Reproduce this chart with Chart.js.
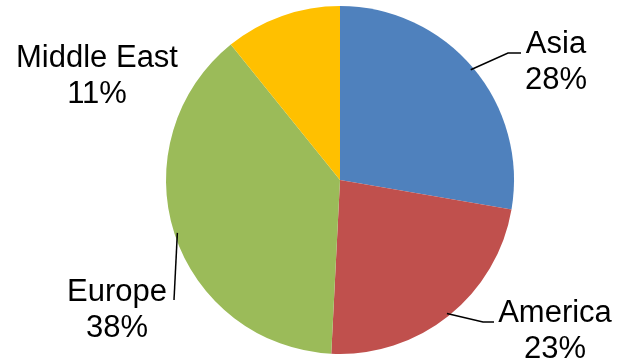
<!DOCTYPE html>
<html>
<head>
<meta charset="utf-8">
<script src="https://cdn.jsdelivr.net/npm/chart.js@4"></script>
<style>
  html, body { margin: 0; padding: 0; background: #fff; }
  #wrap { width: 617px; height: 361px; }
</style>
</head>
<body>
<div id="wrap"><canvas id="myChart" width="617" height="361"></canvas></div>
<script>
// data
var regions = ["Asia", "America", "Europe", "Middle East"];
var shares = [27.7, 23.1, 38.4, 10.8];
var colors = ["#4F81BD", "#C0504D", "#9BBB59", "#FFC000"];

// where each label sits (text centre x, first baseline y) and its leader line elbow/end
var labelSpots = [
    { x: 556, y: 53, line: [[508, 53], [521, 53]] },
    { x: 555, y: 322, line: [[483, 322], [494, 322]] },
    { x: 117, y: 301, line: [[174, 300]] },
    { x: 97, y: 67, line: null }
];

var pieLabels = {
    id: 'pieLabels',
    afterDraw: function(chart) {
        var ctx = chart.ctx;
        var arcs = chart.getDatasetMeta(0).data;
        var total = shares.reduce(function(a, b) { return a + b; }, 0);
        ctx.save();
        ctx.font = '31px "Liberation Sans", Arial, sans-serif';
        ctx.fillStyle = '#000';
        ctx.textAlign = 'center';
        ctx.textBaseline = 'alphabetic';
        ctx.strokeStyle = '#000';
        ctx.lineWidth = 1.5;
        arcs.forEach(function(arc, i) {
            var spot = labelSpots[i];
            if (spot.line) {
                var mid = (arc.startAngle + arc.endAngle) / 2;
                var r = arc.outerRadius - 3;
                ctx.beginPath();
                ctx.moveTo(arc.x + Math.cos(mid) * r, arc.y + Math.sin(mid) * r);
                spot.line.forEach(function(p) { ctx.lineTo(p[0], p[1]); });
                ctx.stroke();
            }
            ctx.fillText(regions[i], spot.x, spot.y);
            ctx.fillText(Math.round(shares[i] / total * 100) + '%', spot.x, spot.y + 36);
        });
        ctx.restore();
    }
};

var ctx = document.getElementById("myChart").getContext('2d');
var myChart = new Chart(ctx, {
    type: 'pie',
    data: {
        labels: regions,
        datasets: [{
            data: shares,
            backgroundColor: colors,
            borderWidth: 0
        }]
    },
    options: {
        responsive: false,
        animation: false,
        layout: { padding: { left: 166, right: 103, top: 6, bottom: 7 } },
        plugins: {
            legend: { display: false },
            tooltip: { enabled: false }
        }
    },
    plugins: [pieLabels]
});
</script>
</body>
</html>
